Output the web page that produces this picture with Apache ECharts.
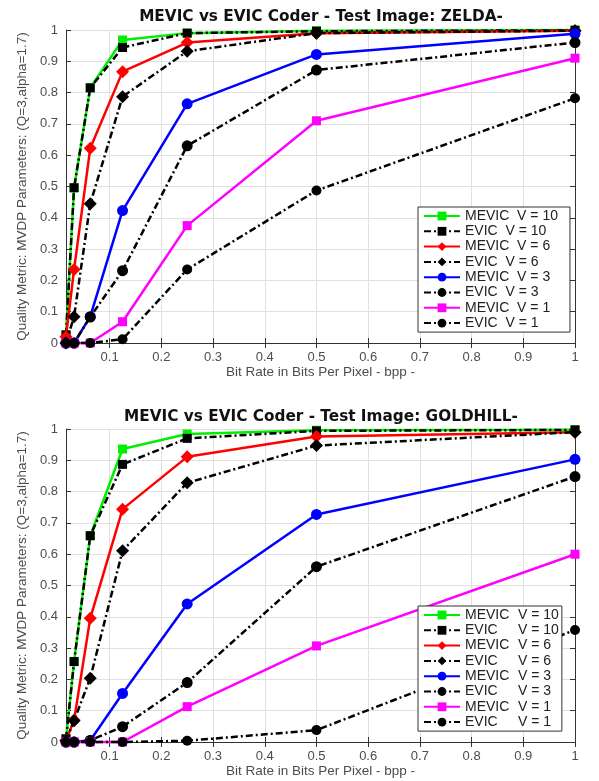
<!DOCTYPE html>
<html>
<head>
<meta charset="utf-8">
<script src="https://cdn.jsdelivr.net/npm/echarts@6/dist/echarts.min.js"></script>
<style>html,body{margin:0;padding:0;background:#fff}#c{width:599px;height:781px}</style>
</head>
<body>
<div id="c"></div>
<script>
// Bit rates (bpp)
const bpp = [0.015625, 0.03125, 0.0625, 0.125, 0.25, 0.5, 1];
const xTicks = [0.1, 0.2, 0.3, 0.4, 0.5, 0.6, 0.7, 0.8, 0.9, 1];

const titleTop = 'MEVIC vs EVIC Coder - Test Image: ZELDA-';
const titleBottom = 'MEVIC vs EVIC Coder - Test Image: GOLDHILL-';
const xName = 'Bit Rate in Bits Per Pixel - bpp -';
const yName = 'Quality Metric: MVDP Parameters: (Q=3,alpha=1.7)';

const seriesNames = ['MEVIC  V = 10', 'EVIC  V = 10', 'MEVIC  V = 6', 'EVIC  V = 6',
                     'MEVIC  V = 3', 'EVIC  V = 3', 'MEVIC  V = 1', 'EVIC  V = 1'];

// ZELDA
const zMevic10 = [0.026, 0.496, 0.816, 0.968, 0.990, 0.998, 1.000];
const zEvic10  = [0.026, 0.496, 0.815, 0.944, 0.990, 0.996, 0.999];
const zMevic6  = [0.020, 0.235, 0.622, 0.867, 0.960, 0.990, 0.998];
const zEvic6   = [0.000, 0.084, 0.445, 0.787, 0.932, 0.990, 0.998];
const zMevic3  = [0.000, 0.000, 0.084, 0.423, 0.764, 0.922, 0.988];
const zEvic3   = [0.000, 0.000, 0.083, 0.231, 0.630, 0.872, 0.960];
const zMevic1  = [0.000, 0.000, 0.000, 0.068, 0.375, 0.710, 0.910];
const zEvic1   = [0.000, 0.000, 0.000, 0.012, 0.235, 0.487, 0.782];

// GOLDHILL
const gMevic10 = [0.010, 0.257, 0.659, 0.936, 0.984, 0.996, 0.998];
const gEvic10  = [0.010, 0.257, 0.659, 0.887, 0.970, 0.994, 0.997];
const gMevic6  = [0.005, 0.070, 0.395, 0.744, 0.911, 0.976, 0.990];
const gEvic6   = [0.005, 0.068, 0.204, 0.611, 0.828, 0.947, 0.990];
const gMevic3  = [0.000, 0.000, 0.005, 0.155, 0.441, 0.727, 0.903];
const gEvic3   = [0.000, 0.000, 0.005, 0.049, 0.190, 0.560, 0.848];
const gMevic1  = [0.000, 0.000, 0.000, 0.000, 0.113, 0.307, 0.600];
const gEvic1   = [0.000, 0.000, 0.000, 0.000, 0.004, 0.038, 0.358];

const colors = ['#00ee00', '#000000', '#ff0000', '#000000', '#0000ff', '#000000', '#ff00ff', '#000000'];
const symbols = ['rect', 'rect', 'diamond', 'diamond', 'circle', 'circle', 'rect', 'circle'];
const symSizes = [9, 9, 13, 13, 11, 11, 9, 10];

const FONT = 'Liberation Sans';
const chart = echarts.init(document.getElementById('c'), null, {renderer: 'canvas'});

function buildSeries(sets, axisIdx) {
  return sets.map((vals, i) => {
    const dashed = i % 2 === 1;
    return {
      type: 'line', name: seriesNames[i],
      xAxisIndex: axisIdx, yAxisIndex: axisIdx,
      data: bpp.map((x, k) => [x, vals[k]]),
      symbol: symbols[i], symbolSize: symSizes[i], showSymbol: true,
      clip: false, animation: false,
      itemStyle: {color: colors[i], borderWidth: 0},
      lineStyle: {color: colors[i], width: 2.5, type: dashed ? [7, 3, 2, 3] : 'solid'},
      emphasis: {disabled: true}
    };
  });
}

function xAxes(gridIndex) {
  return [{
    type: 'value', gridIndex, position: 'bottom', min: bpp[0], max: 1,
    name: xName, nameLocation: 'middle', nameGap: 22,
    nameTextStyle: {fontFamily: FONT, fontSize: 13.5, color: '#4d4d4d'},
    axisLine: {show: true, lineStyle: {color: '#333', width: 1}},
    axisTick: {show: true, inside: true, length: 5, customValues: xTicks, lineStyle: {color: '#333'}},
    axisLabel: {show: true, customValues: xTicks, margin: 8, fontFamily: FONT, fontSize: 13, color: '#4d4d4d'},
    splitLine: {show: true, lineStyle: {color: '#e0e0e0', width: 1}}
  }, {
    type: 'value', gridIndex, position: 'top', min: bpp[0], max: 1,
    axisLine: {show: true, lineStyle: {color: '#333', width: 1}},
    axisTick: {show: true, inside: true, length: 5, customValues: xTicks, lineStyle: {color: '#333'}},
    axisLabel: {show: false}, splitLine: {show: false}
  }];
}
function yAxes(gridIndex) {
  return [{
    type: 'value', gridIndex, position: 'left', min: 0, max: 1, interval: 0.1,
    name: yName, nameLocation: 'middle', nameGap: 37,
    nameTextStyle: {fontFamily: FONT, fontSize: 13.5, color: '#4d4d4d'},
    axisLine: {show: true, lineStyle: {color: '#333', width: 1}},
    axisTick: {show: true, inside: true, length: 5, lineStyle: {color: '#333'}},
    axisLabel: {show: true, margin: 8, fontFamily: FONT, fontSize: 13, color: '#4d4d4d',
                formatter: v => String(Math.round(v * 10) / 10)},
    splitLine: {show: true, lineStyle: {color: '#e0e0e0', width: 1}}
  }, {
    type: 'value', gridIndex, position: 'right', min: 0, max: 1, interval: 0.1,
    axisLine: {show: true, lineStyle: {color: '#333', width: 1}},
    axisTick: {show: true, inside: true, length: 5, lineStyle: {color: '#333'}},
    axisLabel: {show: false}, splitLine: {show: false}
  }];
}

const xa0 = xAxes(0), xa1 = xAxes(1), ya0 = yAxes(0), ya1 = yAxes(1);

const legendBase = {
  orient: 'vertical', itemWidth: 36, itemHeight: 11, itemGap: 1.3,
  borderColor: '#333', borderWidth: 1, backgroundColor: '#fff',
  textStyle: {fontFamily: FONT, fontSize: 14, lineHeight: 14, color: '#222'},
  data: seriesNames, selectedMode: false
};

const option = {
  animation: false,
  backgroundColor: '#fff',
  grid: [
    {left: 66, right: 24, top: 30, height: 313},
    {left: 66, right: 24, top: 429, height: 313}
  ],
  xAxis: [xa0[0], xa0[1], xa1[0], xa1[1]],
  yAxis: [ya0[0], ya0[1], ya1[0], ya1[1]],
  legend: [
    Object.assign({}, legendBase, {left: 418, top: 207, padding: [2, 12, 2, 5]}),
    Object.assign({}, legendBase, {left: 418, top: 606, padding: [2, 3, 2, 5],
      formatter: n => { const p = n.split('  '); return '{a|' + p[0] + '}{b|' + p[1] + '}'; },
      textStyle: {fontFamily: FONT, fontSize: 14, lineHeight: 14, color: '#222',
        rich: {a: {width: 53, fontFamily: FONT, fontSize: 14, lineHeight: 14, color: '#222'},
               b: {fontFamily: FONT, fontSize: 14, lineHeight: 14, color: '#222'}}}
    })
  ],
  graphic: [
    {type: 'text', x: 321, y: 17, style: {text: titleTop, align: 'center', verticalAlign: 'middle',
      fontFamily: 'DejaVu Sans', fontWeight: 'bold', fontSize: 15.3, fill: '#111'}},
    {type: 'text', x: 321, y: 417, style: {text: titleBottom, align: 'center', verticalAlign: 'middle',
      fontFamily: 'DejaVu Sans', fontWeight: 'bold', fontSize: 15.3, fill: '#111'}}
  ],
  series: buildSeries([zMevic10, zEvic10, zMevic6, zEvic6, zMevic3, zEvic3, zMevic1, zEvic1], 0)
    .concat(buildSeries([gMevic10, gEvic10, gMevic6, gEvic6, gMevic3, gEvic3, gMevic1, gEvic1], 2))
};
chart.setOption(option);
</script>
</body>
</html>
